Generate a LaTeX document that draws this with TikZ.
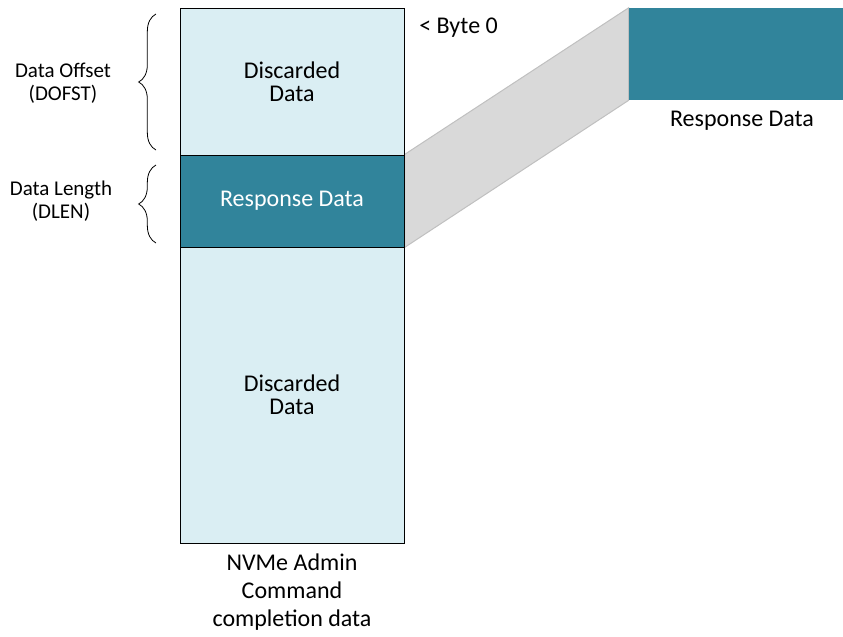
\documentclass[tikz,border=0pt]{standalone}
\usepackage{fontspec}
\setmainfont{Carlito}
\usetikzlibrary{backgrounds,decorations.pathreplacing}
\definecolor{lightcell}{HTML}{DAEEF3}
\definecolor{tealcell}{HTML}{31849B}
\definecolor{bandfill}{HTML}{D9D9D9}
\definecolor{bandline}{HTML}{C0C0C0}
\tikzset{
  cell/.style={draw=black, line width=0.75pt, inner sep=0pt, minimum width=168pt, align=center,
    font=\fontsize{18}{17.25}\selectfont},
  lbl/.style={align=center, inner sep=0pt, font=\fontsize{15.75}{17.25}\selectfont},
  bigtxt/.style={align=center, inner sep=0pt, font=\fontsize{18}{17.25}\selectfont},
  bracestyle/.style={decorate, decoration={brace, amplitude=13pt}, line width=0.6pt}
}
\begin{document}
\begin{tikzpicture}[x=0.75pt, y=-0.75pt]
\useasboundingbox (0,0) rectangle (843,636);
% column
\node[cell, fill=lightcell, minimum height=110.25pt] (top) at (292,81.5) {Discarded\\Data};
\node[cell, fill=tealcell, text=white, minimum height=69pt] (resp) at (292,201) {Response Data};
\node[cell, fill=lightcell, minimum height=222pt] (bot) at (292,395) {Discarded\\Data};
% right box
\node[draw=none, fill=tealcell, inner sep=0pt, minimum width=160.5pt, minimum height=69pt] (out) at (736,54) {};
\node[bigtxt, anchor=base] (outlbl) at (742,126) {Response Data};
% band
\begin{scope}[on background layer]
\filldraw[fill=bandfill, draw=bandline, line width=0.75pt]
  (resp.north east) -- (out.north west) -- (out.south west) -- (resp.south east) -- cycle;
\end{scope}
% labels
\node[bigtxt, anchor=base west] (byte) at (419,33) {< Byte 0};
\node[lbl] (dofst) at (63,83) {Data Offset\\(DOFST)};
\node[lbl] (dlen) at (61,201) {Data Length\\(DLEN)};
\node[align=center, inner sep=0pt, font=\fontsize{18}{21}\selectfont, anchor=north] (cap) at (292,554) {NVMe Admin\\Command\\completion data};
% braces
\coordinate (b1s) at (156,150);
\coordinate (b1e) at (156,14);
\coordinate (b2s) at (156,243);
\coordinate (b2e) at (156,165);
\draw[bracestyle] (b1s) -- (b1e);
\draw[bracestyle] (b2s) -- (b2e);
\end{tikzpicture}
\end{document}
